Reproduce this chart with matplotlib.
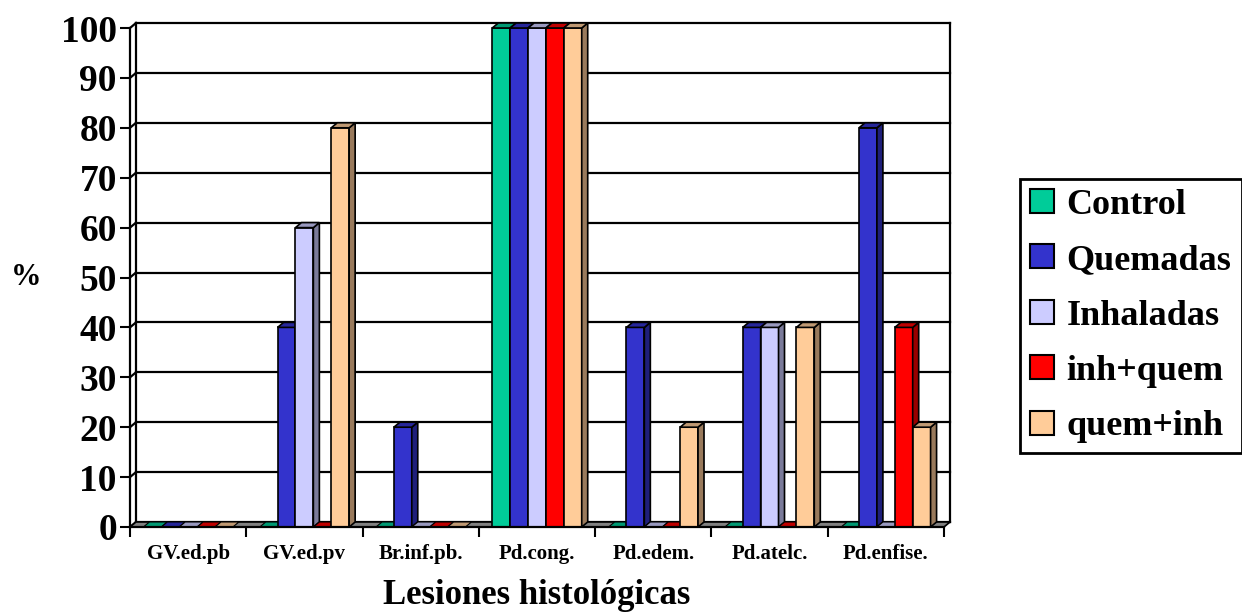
import matplotlib
matplotlib.use("Agg")
import matplotlib.pyplot as plt
from matplotlib.patches import Rectangle, Polygon, Patch

categories = ['GV.ed.pb', 'GV.ed.pv', 'Br.inf.pb.', 'Pd.cong.', 'Pd.edem.', 'Pd.atelc.', 'Pd.enfise.']
series_names = ['Control', 'Quemadas', 'Inhaladas', 'inh+quem', 'quem+inh']
control = [0, 0, 0, 100, 0, 0, 0]
quemadas = [0, 40, 20, 100, 40, 40, 80]
inhaladas = [0, 60, 0, 100, 0, 40, 0]
inh_quem = [0, 0, 0, 100, 0, 0, 40]
quem_inh = [0, 80, 0, 100, 20, 40, 20]
y_ticks = list(range(0, 101, 10))

series = [control, quemadas, inhaladas, inh_quem, quem_inh]
front_colors = ['#00CC99', '#3333CC', '#CCCCFF', '#FF0000', '#FFCC99']
top_colors = ['#009973', '#26269A', '#9999BF', '#BF0000', '#BF9973']
side_colors = ['#007A5C', '#1F1F7A', '#7A7A99', '#990000', '#997A5C']

plt.rcParams['font.family'] = ['Liberation Serif', 'DejaVu Serif']
plt.rcParams['font.weight'] = 'bold'

W, H = 1242, 612
fig = plt.figure(figsize=(W / 100, H / 100), dpi=100)
ax_l, ax_b, ax_w, ax_h = 130, 85, 814, 499
ax = fig.add_axes([ax_l / W, ax_b / H, ax_w / W, ax_h / H])
n = len(categories)
ax.set_xlim(0, n)
ax.set_ylim(0, 100)
for s in ax.spines.values():
    s.set_visible(False)

dx = 6 / ax_w * n
dy = 5 / ax_h * 100
lw = 1.6

# back wall gridlines
for v in y_ticks:
    ax.plot([dx, n + dx], [v + dy, v + dy], color='black', lw=lw, clip_on=False, zorder=1)
    ax.plot([0, dx], [v, v + dy], color='black', lw=lw, clip_on=False, zorder=1)
ax.plot([n + dx, n + dx], [dy, 100 + dy], color='black', lw=lw, clip_on=False, zorder=1)
ax.plot([dx, dx], [dy, 100 + dy], color='black', lw=lw, clip_on=False, zorder=1)
ax.plot([0, 0], [0, 100], color='black', lw=lw, clip_on=False, zorder=1)

# floor
ax.add_patch(Polygon([(0, 0), (n, 0), (n + dx, dy), (dx, dy)], closed=True,
                     fc='#808080', ec='black', lw=1.2, clip_on=False, zorder=2))

nb = len(series)
w = 1 / (nb + 1.5)
z = 3
for c in range(n):
    for s in range(nb):
        v = series[s][c]
        x0 = c + 0.75 * w + s * w
        x1 = x0 + w
        if v > 0:
            ax.add_patch(Rectangle((x0, 0), w, v, fc=front_colors[s], ec='black', lw=1.2,
                                   clip_on=False, zorder=z))
            ax.add_patch(Polygon([(x1, 0), (x1 + dx, dy), (x1 + dx, v + dy), (x1, v)], closed=True,
                                 fc=side_colors[s], ec='black', lw=1.2, clip_on=False, zorder=z))
        ax.add_patch(Polygon([(x0, v), (x1, v), (x1 + dx, v + dy), (x0 + dx, v + dy)], closed=True,
                             fc=top_colors[s], ec='black', lw=0.8 if v == 0 else 1.2,
                             clip_on=False, zorder=z))
        z += 1

# front floor edge
ax.plot([0, n], [0, 0], color='black', lw=lw, clip_on=False, zorder=z + 1)

# ticks
ax.set_yticks(y_ticks)
ax.set_yticklabels([str(t) for t in y_ticks], fontsize=27, fontweight='bold')
ax.tick_params(axis='y', length=7.5, width=1.5, pad=2, color='black')
ax.set_xticks(range(n + 1))
ax.set_xticklabels([''] * (n + 1))
ax.set_xticks([c + 0.5 for c in range(n)], minor=True)
ax.set_xticklabels(categories, minor=True, fontsize=15, fontweight='bold')
ax.tick_params(axis='x', which='major', length=7, width=1.5, color='black')
ax.tick_params(axis='x', which='minor', length=0, pad=12)

fig.text((ax_l + ax_w / 2) / W, 1 - 596 / H, 'Lesiones histológicas', ha='center', va='center',
         fontsize=25, fontweight='bold')
fig.text(26 / W, 1 - 278 / H, '%', ha='center', va='center', fontsize=22, fontweight='bold')

handles = [Patch(fc=front_colors[i], ec='black', lw=1.5) for i in range(nb)]
leg = fig.legend(handles, series_names, loc='center left', bbox_to_anchor=(1020 / W, 1 - 316 / H),
                 frameon=True, fancybox=False, edgecolor='black', framealpha=1,
                 prop={'size': 26, 'weight': 'bold', 'family': 'Liberation Serif'},
                 handlelength=0.65, handleheight=0.65, handletextpad=0.36, labelspacing=0.62,
                 borderpad=0.28, borderaxespad=0)
leg.get_frame().set_linewidth(2)

fig.savefig('out.png', dpi=100)
